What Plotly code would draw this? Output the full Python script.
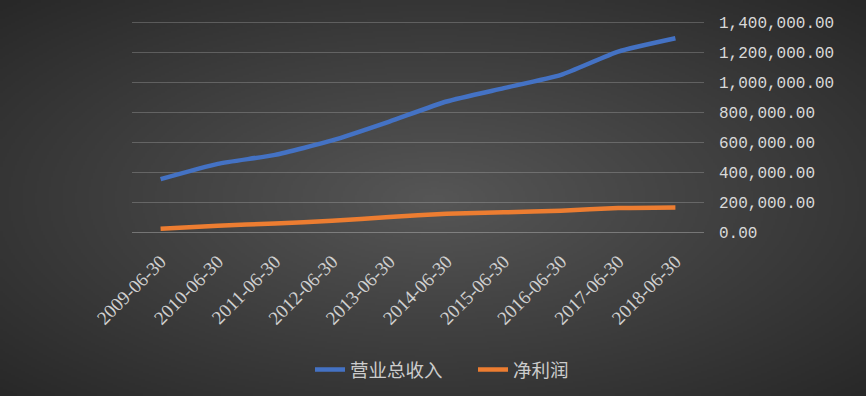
import base64, struct, zlib
import numpy as np
import plotly.graph_objects as go

# ---- data ----
dates = ["2009-06-30", "2010-06-30", "2011-06-30", "2012-06-30", "2013-06-30",
         "2014-06-30", "2015-06-30", "2016-06-30", "2017-06-30", "2018-06-30"]
revenue = [353000, 455000, 515000, 611000, 737000, 871000, 960000, 1049000, 1204000, 1293000]
net_profit = [22000, 42000, 57000, 75000, 100000, 122000, 131000, 142000, 160000, 164000]
series_names = ["营业总收入", "净利润"]
y_ticks = [0, 200000, 400000, 600000, 800000, 1000000, 1200000, 1400000]

W, H = 866, 396
L, R, T, B = 132, 162, 20, 164

# ---- radial gradient background image ----
def gradient_png(w, h, c_in=0x56, c_out=0x28):
    yy, xx = np.mgrid[0:h, 0:w]
    dx = (xx - w * 0.5) / (w * 0.5)
    dy = (yy - h * 0.5) / (h * 0.5)
    t = np.clip(np.sqrt(dx ** 2 + dy ** 2) / np.sqrt(2), 0, 1)
    v = (c_in + (c_out - c_in) * t).astype(np.uint8)
    rgb = np.stack([v, v, v], axis=-1)
    raw = b"".join(b"\x00" + rgb[i].tobytes() for i in range(h))
    def chunk(tag, data):
        c = struct.pack(">I", len(data)) + tag + data
        return c + struct.pack(">I", zlib.crc32(tag + data) & 0xffffffff)
    png = b"\x89PNG\r\n\x1a\n"
    png += chunk(b"IHDR", struct.pack(">IIBBBBB", w, h, 8, 2, 0, 0, 0))
    png += chunk(b"IDAT", zlib.compress(raw, 9))
    png += chunk(b"IEND", b"")
    return "data:image/png;base64," + base64.b64encode(png).decode()

pw = W - L - R
ph = H - T - B
bg = gradient_png(433, 198)

fig = go.Figure()
fig.add_trace(go.Scatter(x=dates, y=revenue, name=series_names[0], mode="lines",
                         line=dict(color="#4472C4", width=4.5, shape="spline", smoothing=0.5)))
fig.add_trace(go.Scatter(x=dates, y=net_profit, name=series_names[1], mode="lines",
                         line=dict(color="#ED7D31", width=4.5, shape="spline", smoothing=0.5)))

fig.update_layout(
    width=W, height=H,
    margin=dict(l=L, r=R, t=T, b=B),
    paper_bgcolor="#3c3c3c",
    plot_bgcolor="rgba(0,0,0,0)",
    images=[dict(source=bg, xref="paper", yref="paper",
                 x=-L / pw, y=1 + T / ph, sizex=W / pw, sizey=H / ph,
                 xanchor="left", yanchor="top", sizing="stretch", layer="below")],
    showlegend=True,
    legend=dict(orientation="h", xref="container", yref="container",
                x=310 / W, xanchor="left", y=0.066, yanchor="middle",
                font=dict(family="Noto Sans CJK SC", size=18.5, color="#cccccc"),
                bgcolor="rgba(0,0,0,0)", entrywidth=118, entrywidthmode="pixels"),
    xaxis=dict(type="category", tickangle=-45, showgrid=False,
               showline=True, linecolor="rgba(217,217,217,0.35)", linewidth=1,
               ticks="", ticklabelstandoff=10,
               tickfont=dict(family="Liberation Serif", size=19, color="#d0d0d0"),
               range=[-0.5, len(dates) - 0.5]),
    yaxis=dict(side="right", range=[0, 1415000], tickvals=y_ticks, tickformat=",.2f",
               showgrid=True, gridcolor="rgba(217,217,217,0.25)", gridwidth=1,
               zeroline=False, showline=False, ticks="", ticklabelstandoff=14,
               tickfont=dict(family="Liberation Mono", size=16, color="#d9d9d9")),
)

fig.write_html("out.html", config={"displayModeBar": False},
               post_script="document.body.style.margin='0';document.body.style.padding='0';")
